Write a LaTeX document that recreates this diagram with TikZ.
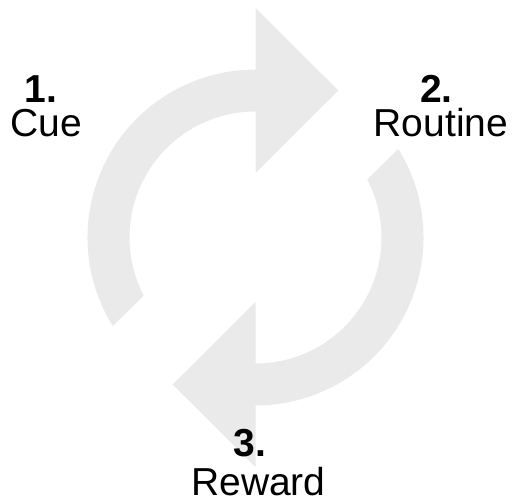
\documentclass[tikz,border=0pt]{standalone}
\usepackage{fontspec}
\setmainfont{Liberation Sans}
\definecolor{arrowgray}{RGB}{234,234,234}
\begin{document}
\begin{tikzpicture}[x=1pt,y=1pt,
  cyclearrow/.style={fill=arrowgray,draw=none},
  lbl/.style={anchor=base,inner sep=0pt,font=\fontsize{39}{39}\selectfont},
  num/.style={lbl,font=\fontsize{39}{39}\selectfont\bfseries}]
\useasboundingbox (0,0) rectangle (516,500);
\coordinate (C) at (255.5,262.5);
% top arrow
\begin{scope}[shift={(C)}]
  \fill[cyclearrow] (211.8:168) arc[start angle=211.8,end angle=90,radius=168]
    -- (0,229.5) -- (82.8,147) -- (0,64.5) -- (0,126)
    arc[start angle=90,end angle=207.5,radius=126] -- cycle;
\end{scope}
% bottom arrow
\begin{scope}[shift={(C)},rotate=180]
  \fill[cyclearrow] (211.8:168) arc[start angle=211.8,end angle=90,radius=168]
    -- (0,229.5) -- (82.8,147) -- (0,64.5) -- (0,126)
    arc[start angle=90,end angle=207.5,radius=126] -- cycle;
\end{scope}
% labels
\node[num] (n1) at (41,397) {1.};
\node[lbl] (cue) at (46.5,363) {Cue};
\node[num] (n2) at (436.5,397) {2.};
\node[lbl] (routine) at (441,363) {Routine};
\node[num] (n3) at (250,43) {3.};
\node[lbl] (reward) at (258.5,5) {Reward};
\end{tikzpicture}
\end{document}
